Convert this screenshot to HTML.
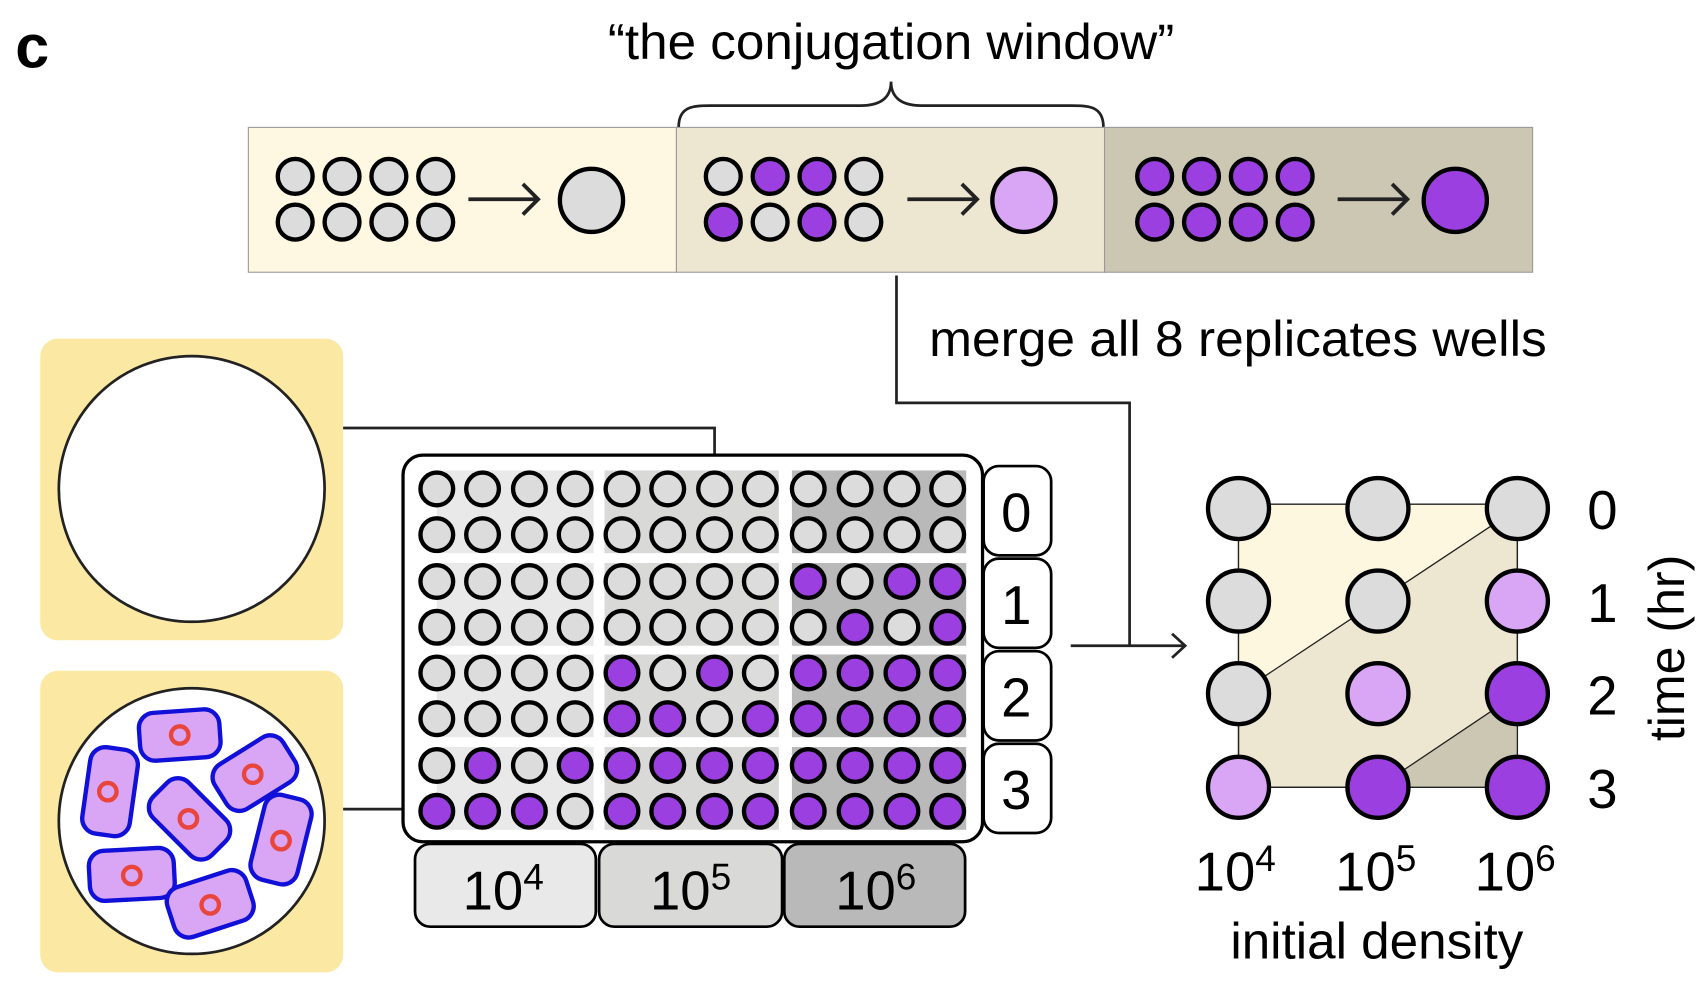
<!DOCTYPE html>
<html><head><meta charset="utf-8"><style>
html,body{margin:0;padding:0;background:#fff}
svg{display:block}
text{font-family:"Liberation Sans",sans-serif;fill:#000}
.g{fill:#dcdcdc;stroke:#000;stroke-width:4}
.p{fill:#9b3fe0;stroke:#000;stroke-width:4}
.l{fill:#d9a6f5;stroke:#000;stroke-width:4}
.ln{fill:none;stroke:#222;stroke-width:2.5}
.cell{fill:#d9a6f5;stroke:#1010d8;stroke-width:4}
.nuc{fill:none;stroke:#e8453c;stroke-width:4}
</style></head><body>
<svg width="1708" height="1004" viewBox="0 0 1568 922" preserveAspectRatio="none" xmlns="http://www.w3.org/2000/svg">
<text x="14" y="62" font-size="56" font-weight="bold">c</text>
<text x="558" y="54" font-size="46" textLength="520" lengthAdjust="spacingAndGlyphs">“the conjugation window”</text>
<path d="M623,117 C623,95 640,97 660,97 L790,97 C808,97 818,90 818,75 C818,90 828,97 846,97 L976,97 C996,97 1013,95 1013,117" class="ln"/>
<rect x="228" y="117" width="393" height="133" fill="#fef8e2" stroke="#999" stroke-width="1"/>
<rect x="621" y="117" width="393" height="133" fill="#ede7d1" stroke="#999" stroke-width="1"/>
<rect x="1014" y="117" width="393" height="133" fill="#cbc7b3" stroke="#999" stroke-width="1"/>
<g>
<circle cx="271" cy="162" r="16" class="g"/><circle cx="314" cy="162" r="16" class="g"/><circle cx="357" cy="162" r="16" class="g"/><circle cx="400" cy="162" r="16" class="g"/>
<circle cx="271" cy="204" r="16" class="g"/><circle cx="314" cy="204" r="16" class="g"/><circle cx="357" cy="204" r="16" class="g"/><circle cx="400" cy="204" r="16" class="g"/>
<circle cx="543" cy="184" r="29" class="g"/>
<circle cx="664" cy="162" r="16" class="g"/><circle cx="707" cy="162" r="16" class="p"/><circle cx="750" cy="162" r="16" class="p"/><circle cx="793" cy="162" r="16" class="g"/>
<circle cx="664" cy="204" r="16" class="p"/><circle cx="707" cy="204" r="16" class="g"/><circle cx="750" cy="204" r="16" class="p"/><circle cx="793" cy="204" r="16" class="g"/>
<circle cx="940" cy="184" r="29" class="l"/>
<circle cx="1060" cy="162" r="16" class="p"/><circle cx="1103" cy="162" r="16" class="p"/><circle cx="1146" cy="162" r="16" class="p"/><circle cx="1189" cy="162" r="16" class="p"/>
<circle cx="1060" cy="204" r="16" class="p"/><circle cx="1103" cy="204" r="16" class="p"/><circle cx="1146" cy="204" r="16" class="p"/><circle cx="1189" cy="204" r="16" class="p"/>
<circle cx="1336" cy="184" r="29" class="p"/>
</g>
<g style="fill:none;stroke:#222;stroke-width:3.5">
<path d="M430,183 H494 M480,169 L494,183 L480,197"/>
<path d="M833,183 H897 M883,169 L897,183 L883,197"/>
<path d="M1228,183 H1292 M1278,169 L1292,183 L1278,197"/>
</g>
<text x="853" y="327" font-size="46" textLength="567" lengthAdjust="spacingAndGlyphs">merge all 8 replicates wells</text>
<path d="M823,253 V370 H1037 V593" class="ln"/>
<path d="M983,593 H1088 M1076,582 L1088,593 L1076,604" class="ln"/>
<rect x="37" y="311" width="278" height="277" rx="16" fill="#fbe8a3"/>
<rect x="37" y="616" width="278" height="277" rx="16" fill="#fbe8a3"/>
<circle cx="176" cy="449" r="122" fill="#fff" stroke="#222" stroke-width="2.5"/>
<circle cx="176" cy="754" r="122" fill="#fff" stroke="#222" stroke-width="2.5"/>
<g>
<rect x="-37" y="-22" width="74" height="44" rx="14" class="cell" transform="translate(165,675) rotate(-4)"/><circle cx="165" cy="675" r="8" class="nuc"/>
<rect x="-22" y="-40" width="44" height="80" rx="14" class="cell" transform="translate(101,727) rotate(8)"/><circle cx="99" cy="727" r="8" class="nuc"/>
<rect x="-37" y="-24" width="74" height="48" rx="14" class="cell" transform="translate(234,710) rotate(-32)"/><circle cx="232" cy="711" r="8" class="nuc"/>
<rect x="-38" y="-23" width="76" height="46" rx="14" class="cell" transform="translate(174,752) rotate(45)"/><circle cx="173" cy="752" r="8" class="nuc"/>
<rect x="-22" y="-40" width="44" height="80" rx="14" class="cell" transform="translate(258,771) rotate(14)"/><circle cx="258" cy="772" r="8" class="nuc"/>
<rect x="-39" y="-23" width="78" height="46" rx="14" class="cell" transform="translate(121,803) rotate(-3)"/><circle cx="121" cy="804" r="8" class="nuc"/>
<rect x="-38" y="-24" width="76" height="48" rx="14" class="cell" transform="translate(193,830) rotate(-18)"/><circle cx="193" cy="831" r="8" class="nuc"/>
</g>
<path d="M315,393 H656 V433" class="ln"/>
<path d="M315,743 H386" class="ln"/>
<rect x="370" y="418" width="532" height="355" rx="18" fill="#fff" stroke="#000" stroke-width="3"/>
<g>
<rect x="401" y="432" width="144" height="76" fill="#e8e9e8"/><rect x="401" y="517" width="144" height="76" fill="#e8e9e8"/><rect x="401" y="601" width="144" height="76" fill="#e8e9e8"/><rect x="401" y="686" width="144" height="76" fill="#e8e9e8"/>
<rect x="555" y="432" width="160" height="76" fill="#d9d9d8"/><rect x="555" y="517" width="160" height="76" fill="#d9d9d8"/><rect x="555" y="601" width="160" height="76" fill="#d9d9d8"/><rect x="555" y="686" width="160" height="76" fill="#d9d9d8"/>
<rect x="727" y="432" width="160" height="76" fill="#b9b9b9"/><rect x="727" y="517" width="160" height="76" fill="#b9b9b9"/><rect x="727" y="601" width="160" height="76" fill="#b9b9b9"/><rect x="727" y="686" width="160" height="76" fill="#b9b9b9"/>
</g>
<g>
<circle cx="401" cy="449" r="15" class="g"/><circle cx="443" cy="449" r="15" class="g"/><circle cx="486" cy="449" r="15" class="g"/><circle cx="528" cy="449" r="15" class="g"/><circle cx="571" cy="449" r="15" class="g"/><circle cx="613" cy="449" r="15" class="g"/><circle cx="656" cy="449" r="15" class="g"/><circle cx="698" cy="449" r="15" class="g"/><circle cx="742" cy="449" r="15" class="g"/><circle cx="785" cy="449" r="15" class="g"/><circle cx="828" cy="449" r="15" class="g"/><circle cx="870" cy="449" r="15" class="g"/>
<circle cx="401" cy="491" r="15" class="g"/><circle cx="443" cy="491" r="15" class="g"/><circle cx="486" cy="491" r="15" class="g"/><circle cx="528" cy="491" r="15" class="g"/><circle cx="571" cy="491" r="15" class="g"/><circle cx="613" cy="491" r="15" class="g"/><circle cx="656" cy="491" r="15" class="g"/><circle cx="698" cy="491" r="15" class="g"/><circle cx="742" cy="491" r="15" class="g"/><circle cx="785" cy="491" r="15" class="g"/><circle cx="828" cy="491" r="15" class="g"/><circle cx="870" cy="491" r="15" class="g"/>
<circle cx="401" cy="534" r="15" class="g"/><circle cx="443" cy="534" r="15" class="g"/><circle cx="486" cy="534" r="15" class="g"/><circle cx="528" cy="534" r="15" class="g"/><circle cx="571" cy="534" r="15" class="g"/><circle cx="613" cy="534" r="15" class="g"/><circle cx="656" cy="534" r="15" class="g"/><circle cx="698" cy="534" r="15" class="g"/><circle cx="742" cy="534" r="15" class="p"/><circle cx="785" cy="534" r="15" class="g"/><circle cx="828" cy="534" r="15" class="p"/><circle cx="870" cy="534" r="15" class="p"/>
<circle cx="401" cy="576" r="15" class="g"/><circle cx="443" cy="576" r="15" class="g"/><circle cx="486" cy="576" r="15" class="g"/><circle cx="528" cy="576" r="15" class="g"/><circle cx="571" cy="576" r="15" class="g"/><circle cx="613" cy="576" r="15" class="g"/><circle cx="656" cy="576" r="15" class="g"/><circle cx="698" cy="576" r="15" class="g"/><circle cx="742" cy="576" r="15" class="g"/><circle cx="785" cy="576" r="15" class="p"/><circle cx="828" cy="576" r="15" class="g"/><circle cx="870" cy="576" r="15" class="p"/>
<circle cx="401" cy="618" r="15" class="g"/><circle cx="443" cy="618" r="15" class="g"/><circle cx="486" cy="618" r="15" class="g"/><circle cx="528" cy="618" r="15" class="g"/><circle cx="571" cy="618" r="15" class="p"/><circle cx="613" cy="618" r="15" class="g"/><circle cx="656" cy="618" r="15" class="p"/><circle cx="698" cy="618" r="15" class="g"/><circle cx="742" cy="618" r="15" class="p"/><circle cx="785" cy="618" r="15" class="p"/><circle cx="828" cy="618" r="15" class="p"/><circle cx="870" cy="618" r="15" class="p"/>
<circle cx="401" cy="660" r="15" class="g"/><circle cx="443" cy="660" r="15" class="g"/><circle cx="486" cy="660" r="15" class="g"/><circle cx="528" cy="660" r="15" class="g"/><circle cx="571" cy="660" r="15" class="p"/><circle cx="613" cy="660" r="15" class="p"/><circle cx="656" cy="660" r="15" class="g"/><circle cx="698" cy="660" r="15" class="p"/><circle cx="742" cy="660" r="15" class="p"/><circle cx="785" cy="660" r="15" class="p"/><circle cx="828" cy="660" r="15" class="p"/><circle cx="870" cy="660" r="15" class="p"/>
<circle cx="401" cy="703" r="15" class="g"/><circle cx="443" cy="703" r="15" class="p"/><circle cx="486" cy="703" r="15" class="g"/><circle cx="528" cy="703" r="15" class="p"/><circle cx="571" cy="703" r="15" class="p"/><circle cx="613" cy="703" r="15" class="p"/><circle cx="656" cy="703" r="15" class="p"/><circle cx="698" cy="703" r="15" class="p"/><circle cx="742" cy="703" r="15" class="p"/><circle cx="785" cy="703" r="15" class="p"/><circle cx="828" cy="703" r="15" class="p"/><circle cx="870" cy="703" r="15" class="p"/>
<circle cx="401" cy="745" r="15" class="p"/><circle cx="443" cy="745" r="15" class="p"/><circle cx="486" cy="745" r="15" class="p"/><circle cx="528" cy="745" r="15" class="g"/><circle cx="571" cy="745" r="15" class="p"/><circle cx="613" cy="745" r="15" class="p"/><circle cx="656" cy="745" r="15" class="p"/><circle cx="698" cy="745" r="15" class="p"/><circle cx="742" cy="745" r="15" class="p"/><circle cx="785" cy="745" r="15" class="p"/><circle cx="828" cy="745" r="15" class="p"/><circle cx="870" cy="745" r="15" class="p"/>
</g>
<g fill="#fff" stroke="#000" stroke-width="2.5">
<rect x="903" y="428" width="62" height="82" rx="14"/><rect x="903" y="513" width="62" height="82" rx="14"/><rect x="903" y="598" width="62" height="82" rx="14"/><rect x="903" y="683" width="62" height="82" rx="14"/>
</g>
<g font-size="50" text-anchor="middle">
<text x="933" y="488">0</text><text x="933" y="573">1</text><text x="933" y="658">2</text><text x="933" y="743">3</text>
</g>
<g stroke="#000" stroke-width="2.5">
<rect x="381" y="775" width="166" height="76" rx="14" fill="#e8e9e8"/>
<rect x="550" y="775" width="168" height="76" rx="14" fill="#d9d9d8"/>
<rect x="720" y="775" width="166" height="76" rx="14" fill="#b9b9b9"/>
</g>
<g font-size="50" text-anchor="middle">
<text x="462" y="835">10<tspan font-size="34" dy="-18">4</tspan></text>
<text x="634" y="835">10<tspan font-size="34" dy="-18">5</tspan></text>
<text x="804" y="835">10<tspan font-size="34" dy="-18">6</tspan></text>
</g>
<rect x="1137" y="463" width="256" height="260" fill="#ede7d1" stroke="#222" stroke-width="1.2"/>
<polygon points="1137,463 1393,463 1393,467 1137,637" fill="#fdf7df"/>
<polygon points="1265,723 1393,637 1393,723" fill="#cbc7b3"/>
<path d="M1137,463 H1393 V723 H1137 Z M1137,637 L1393,467 M1265,723 L1393,637" fill="none" stroke="#222" stroke-width="1.2"/>
<g>
<circle cx="1137" cy="467" r="28" class="g"/><circle cx="1265" cy="467" r="28" class="g"/><circle cx="1393" cy="467" r="28" class="g"/>
<circle cx="1137" cy="552" r="28" class="g"/><circle cx="1265" cy="552" r="28" class="g"/><circle cx="1393" cy="552" r="28" class="l"/>
<circle cx="1137" cy="637" r="28" class="g"/><circle cx="1265" cy="637" r="28" class="l"/><circle cx="1393" cy="637" r="28" class="p"/>
<circle cx="1137" cy="723" r="28" class="l"/><circle cx="1265" cy="723" r="28" class="p"/><circle cx="1393" cy="723" r="28" class="p"/>
</g>
<g font-size="50" text-anchor="middle">
<text x="1471" y="486">0</text><text x="1471" y="571">1</text><text x="1471" y="656">2</text><text x="1471" y="742">3</text>
<text x="1134" y="818">10<tspan font-size="34" dy="-18">4</tspan></text>
<text x="1263" y="818">10<tspan font-size="34" dy="-18">5</tspan></text>
<text x="1391" y="818">10<tspan font-size="34" dy="-18">6</tspan></text>
</g>
<text x="1264" y="880" font-size="47" text-anchor="middle">initial density</text>
<text transform="translate(1546,595) rotate(-90)" font-size="46" text-anchor="middle">time (hr)</text>
</svg>
</body></html>
